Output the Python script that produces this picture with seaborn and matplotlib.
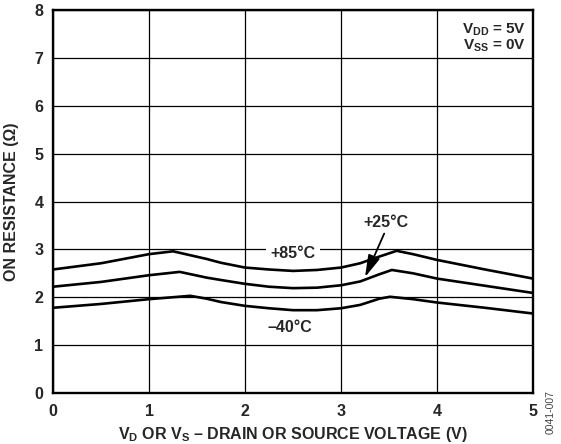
import matplotlib
matplotlib.use("Agg")
import matplotlib.pyplot as plt
import seaborn as sns
import pandas as pd

# On-resistance vs. drain/source voltage at three temperatures
v85_x = [0, 0.5, 1.0, 1.25, 1.6, 1.75, 2.0, 2.25, 2.5, 2.75, 3.0, 3.2, 3.4, 3.58, 3.75, 4.0, 4.5, 5.0]
v85_r = [2.58, 2.71, 2.90, 2.96, 2.80, 2.72, 2.62, 2.58, 2.55, 2.57, 2.62, 2.71, 2.85, 2.97, 2.90, 2.78, 2.58, 2.39]
v25_x = [0, 0.5, 1.0, 1.32, 1.6, 1.75, 2.0, 2.25, 2.5, 2.75, 3.0, 3.2, 3.4, 3.53, 3.75, 4.0, 4.5, 5.0]
v25_r = [2.22, 2.32, 2.46, 2.53, 2.41, 2.36, 2.28, 2.22, 2.19, 2.20, 2.25, 2.33, 2.48, 2.57, 2.50, 2.39, 2.24, 2.09]
v40_x = [0, 0.5, 1.0, 1.43, 1.6, 1.75, 2.0, 2.25, 2.5, 2.75, 3.0, 3.2, 3.4, 3.51, 3.75, 4.0, 4.5, 5.0]
v40_r = [1.78, 1.86, 1.96, 2.03, 1.97, 1.90, 1.82, 1.77, 1.73, 1.73, 1.77, 1.84, 1.97, 2.01, 1.96, 1.89, 1.78, 1.66]

x_ticks = [0, 1, 2, 3, 4, 5]
y_ticks = [0, 1, 2, 3, 4, 5, 6, 7, 8]

df = pd.concat([
    pd.DataFrame({"v": v85_x, "r": v85_r, "temp": "+85°C"}),
    pd.DataFrame({"v": v25_x, "r": v25_r, "temp": "+25°C"}),
    pd.DataFrame({"v": v40_x, "r": v40_r, "temp": "–40°C"}),
])

sns.set_style("white")
plt.rcParams["font.family"] = ["Liberation Sans", "DejaVu Sans"]
plt.rcParams["font.weight"] = "bold"
plt.rcParams["mathtext.fontset"] = "custom"
plt.rcParams["mathtext.rm"] = "Liberation Sans:bold"
plt.rcParams["mathtext.it"] = "Liberation Sans:bold"
plt.rcParams["mathtext.bf"] = "Liberation Sans:bold"
plt.rcParams["mathtext.default"] = "rm"

fig = plt.figure(figsize=(5.61, 4.44), dpi=100)
ax = fig.add_axes([53 / 561, 1 - 393 / 444, 480 / 561, 383 / 444])

sns.lineplot(data=df, x="v", y="r", hue="temp", units="temp", estimator=None,
             sort=False, palette=["black"] * 3, linewidth=1.9, legend=False,
             ax=ax, solid_joinstyle="round", solid_capstyle="butt")

ax.set_xlim(0, 5)
ax.set_ylim(0, 8)
ax.set_xticks(x_ticks)
ax.set_yticks(y_ticks)
ax.set_xticklabels([str(t) for t in x_ticks], fontsize=11.5, fontweight="bold")
ax.set_yticklabels([str(t) for t in y_ticks], fontsize=11.5, fontweight="bold")
ax.tick_params(axis="both", length=0)
ax.tick_params(axis="x", pad=8)
ax.tick_params(axis="y", pad=7)
ax.grid(True, color="black", linewidth=0.9)
ax.set_axisbelow(True)
for s in ax.spines.values():
    s.set_color("black")
    s.set_linewidth(1.7)

ax.set_xlabel(r"V$_{D}$ OR V$_{S}$ – DRAIN OR SOURCE VOLTAGE (V)",
              fontsize=11.5, fontweight="bold", labelpad=4)
ax.set_ylabel("ON RESISTANCE (Ω)", fontsize=11.5, fontweight="bold", labelpad=11)

box = dict(facecolor="white", edgecolor="none", pad=3)
ax.text(2.5, 2.92, "+85°C", ha="center", va="center", fontsize=11.5,
        fontweight="bold", bbox=box, zorder=3)
ax.text(2.47, 1.36, "–40°C", ha="center", va="center", fontsize=11.5,
        fontweight="bold", zorder=3)
ax.text(3.47, 3.57, "+25°C", ha="center", va="center", fontsize=11.5,
        fontweight="bold", zorder=3)
ax.annotate("", xy=(3.25, 2.42), xytext=(3.45, 3.33),
            arrowprops=dict(arrowstyle="-|>,head_length=0.9,head_width=0.25",
                            color="black", lw=1.3, mutation_scale=15,
                            shrinkA=0, shrinkB=0), zorder=4)

ax.text(0.985, 0.97, "V$_{DD}$ = 5V\nV$_{SS}$ = 0V", transform=ax.transAxes,
        ha="right", va="top", fontsize=11, fontweight="bold",
        linespacing=0.95)

fig.text(551 / 561, 1 - 412 / 444, "0041-007", rotation=90, ha="center",
         va="center", fontsize=7.5, color="#444444", fontweight="normal")

fig.savefig("out.png", dpi=100)
